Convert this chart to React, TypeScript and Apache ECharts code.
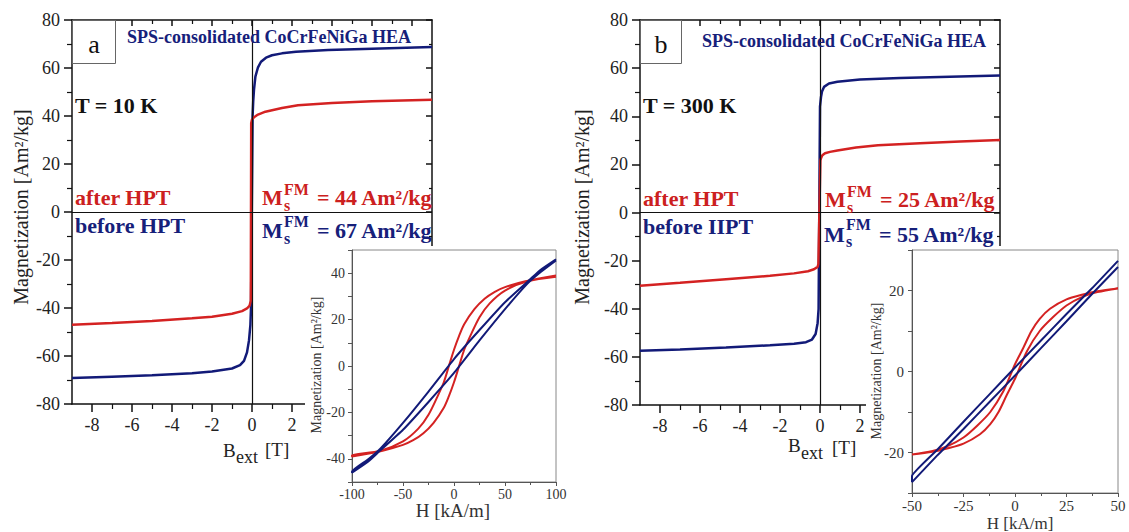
import React, { useEffect, useRef } from "react";
import * as echarts from "echarts";

const FONT = "Liberation Serif, Times New Roman, serif";
const NAVY = "#121a78";
const RED = "#d42222";
const NAVY_TXT = "#16207a";
const RED_TXT = "#cc2020";

// main axes ticks
const mainXLabels = [-8, -6, -4, -2, 0, 2];
const mainXMajor = [-8, -6, -4, -2, 0, 2, 4, 6, 8];
const mainXMinor = [-7, -5, -3, -1, 1, 3, 5, 7];

// Panel a (T = 10 K): B [T], M [Am2/kg]
const aBeforeB = [-9, -7, -5, -3, -2, -1, -0.6, -0.4, -0.25, -0.15, -0.08, -0.05, 0.03, 0.06, 0.1, 0.17, 0.3, 0.45, 0.7, 1, 1.5, 2.2, 3.8, 6, 9];
const aBeforeM = [-69.2, -68.6, -68, -67.2, -66.5, -65.2, -63.8, -62, -58.5, -53.5, -47, -40, 40, 46, 51, 56.4, 60.3, 62.6, 64.3, 65.3, 66.1, 66.8, 67.5, 68, 68.7];
const aAfterB = [-9, -7, -5, -3, -2, -1, -0.5, -0.25, -0.12, -0.06, -0.04, 0, 0.1, 0.3, 0.67, 1.5, 2.3, 4, 6, 9];
const aAfterM = [-47, -46.3, -45.4, -44.3, -43.6, -42.4, -41.3, -40.2, -39, -37, 37, 38.5, 39.5, 40.6, 41.8, 43.3, 44.5, 45.4, 46.1, 46.8];

// Panel b (T = 300 K)
const bBeforeB = [-9, -7, -4.7, -2.5, -1.3, -0.7, -0.4, -0.22, -0.12, -0.07, 0, 0.05, 0.1, 0.2, 0.45, 0.87, 2, 4, 6, 9];
const bBeforeM = [-57.5, -56.9, -56.1, -55.2, -54.5, -53.9, -52.8, -50.5, -46, -40, 44, 48, 50.3, 52.2, 53.6, 54.3, 55.3, 55.9, 56.3, 56.9];
const bAfterB = [-9, -7, -4.7, -2.5, -1.3, -0.6, -0.3, -0.12, -0.08, 0.02, 0.06, 0.12, 0.25, 0.5, 0.87, 1.8, 2.9, 5, 7, 9];
const bAfterM = [-30.4, -29.2, -27.7, -26.3, -25.3, -24.4, -23.6, -22.6, -21.5, 21.7, 22.8, 23.8, 24.6, 25.2, 25.8, 27, 27.9, 28.8, 29.5, 30.1];

// Inset a (H [kA/m], M), descending (upper) and ascending (lower) branches
const iaBlueUpper = [[100, 46], [85, 41.5], [75, 37.5], [50, 27.5], [25, 15.5], [0, 3], [-25, -11], [-50, -24.5], [-72, -35.5], [-85, -40.5], [-100, -45.5]];
const iaBlueLower = [[-100, -46], [-85, -41.5], [-75, -37.5], [-50, -27.5], [-25, -15.5], [0, -3], [25, 11], [50, 24.5], [72, 35.5], [85, 40.5], [100, 45.5]];
const iaRedUpper = [[100, 39], [70, 36.5], [50, 34], [40, 32], [30, 29], [20, 24.5], [10, 18], [5, 13], [0, 7], [-5, 0], [-10, -7], [-15, -12], [-25, -21], [-35, -27], [-50, -32.5], [-72, -36.5], [-100, -38.5]];
const iaRedLower = [[-100, -39], [-70, -36.5], [-50, -34], [-40, -32], [-30, -29], [-20, -24.5], [-10, -18], [-5, -13], [0, -7], [5, 0], [10, 7], [15, 12], [25, 21], [35, 27], [50, 32.5], [72, 36.5], [100, 38.5]];

// Inset b
const ibBlueUpper = [[50, 27.3], [37.5, 20.6], [25, 14.2], [12.5, 7.6], [0, 1], [-12.5, -5.7], [-25, -12.4], [-37.5, -19.2], [-50, -25.8]];
const ibBlueLower = [[-50, -27.3], [-37.5, -20.6], [-25, -14.2], [-12.5, -7.6], [0, -1], [12.5, 5.7], [25, 12.4], [37.5, 19.2], [50, 25.8]];
const ibRedUpper = [[50, 20.5], [40, 19.8], [33, 19], [25, 17.8], [17, 15.5], [12, 13], [8, 10], [4, 5.8], [0, 1.8], [-1.5, 0], [-6, -5.2], [-12, -10], [-18, -13.2], [-25, -16.3], [-33, -18.5], [-40, -19.6], [-50, -20.5]];
const ibRedLower = [[-50, -20.5], [-40, -19.8], [-33, -19], [-25, -17.8], [-17, -15.5], [-12, -13], [-8, -10], [-4, -5.8], [0, -1.8], [1.5, 0], [6, 5.2], [12, 10], [18, 13.2], [25, 16.3], [33, 18.5], [40, 19.6], [50, 20.5]];

const insetAYLabels = [-40, -20, 0, 20, 40];
const insetBYLabels = [-20, 0, 20];

function zip(xs: number[], ys: number[]) {
  return xs.map((x, i) => [x, ys[i]]);
}

const BLACK = "#111";

function mainXAxes(gMain: number, gOver: number) {
  const base = { type: "value", min: -9, max: 9, splitLine: { show: false } };
  return [
    {
      ...base, gridIndex: gMain, position: "bottom",
      axisLine: { show: true, onZero: false, lineStyle: { color: BLACK, width: 1.5 } },
      axisTick: { show: true, inside: false, length: 8, customValues: mainXMajor, lineStyle: { color: BLACK, width: 1.5 } },
      axisLabel: { show: true, customValues: mainXLabels, margin: 12, fontSize: 18, fontFamily: FONT, color: "#222" },
    },
    {
      ...base, gridIndex: gMain, position: "top",
      axisLine: { show: true, onZero: false, lineStyle: { color: BLACK, width: 1.5 } },
      axisTick: { show: true, inside: true, length: 6, customValues: mainXMajor, lineStyle: { color: BLACK, width: 1.5 } },
      axisLabel: { show: false },
    },
    {
      ...base, gridIndex: gOver, position: "bottom",
      axisLine: { show: false, onZero: false },
      axisTick: { show: true, inside: false, length: 5, customValues: mainXMinor, lineStyle: { color: BLACK, width: 1.2 } },
      axisLabel: { show: false },
    },
    {
      ...base, gridIndex: gOver, position: "top",
      axisLine: { show: false, onZero: false },
      axisTick: { show: true, inside: true, length: 4, customValues: mainXMinor, lineStyle: { color: BLACK, width: 1.2 } },
      axisLabel: { show: false },
    },
  ];
}

function mainYAxes(gMain: number, gOver: number) {
  const base = { type: "value", min: -80, max: 80, interval: 20, splitLine: { show: false } };
  return [
    {
      ...base, gridIndex: gMain, position: "left",
      axisLine: { show: true, onZero: false, lineStyle: { color: BLACK, width: 1.5 } },
      axisTick: { show: true, inside: false, length: 8, lineStyle: { color: BLACK, width: 1.5 } },
      minorTick: { show: true, splitNumber: 2, length: 5, lineStyle: { color: BLACK, width: 1.2 } },
      axisLabel: { show: true, margin: 12, fontSize: 18, fontFamily: FONT, color: "#222" },
    },
    {
      ...base, gridIndex: gMain, position: "right",
      axisLine: { show: true, onZero: false, lineStyle: { color: BLACK, width: 1.5 } },
      axisTick: { show: true, inside: true, length: 6, lineStyle: { color: BLACK, width: 1.5 } },
      minorTick: { show: true, splitNumber: 2, length: 3, lineStyle: { color: BLACK, width: 1.2 } },
      axisLabel: { show: false },
    },
    { ...base, gridIndex: gOver, show: false },
  ];
}

function txt(text: string, x: number, baseline: number, size: number, color: string, weight = "bold", align = "left") {
  return {
    type: "text", x, y: baseline - 0.33 * size, z: 100,
    style: { text, fontSize: size, fontFamily: FONT, fontWeight: weight, fill: color, textAlign: align, textVerticalAlign: "middle" },
  };
}

function rotTxt(text: string, x: number, y: number, size: number, color: string) {
  return {
    type: "text", x, y, rotation: Math.PI / 2, z: 100,
    style: { text, fontSize: size, fontFamily: FONT, fontWeight: "normal", fill: color, textAlign: "center", textVerticalAlign: "middle" },
  };
}

function msLabel(x: number, baseM: number, baseFM: number, baseS: number, xRest: number, rest: string, color: string) {
  return [
    txt("M", x, baseM, 22, color),
    txt("FM", x + 22, baseFM, 16, color),
    txt("s", x + 22, baseS, 16, color),
    txt(rest, xRest, baseM, 22, color),
  ];
}

function line(data: number[][], color: string, xi: number, yi: number, width: number, z: number, smooth: number | boolean = false, extra: any = {}) {
  return {
    type: "line", data, xAxisIndex: xi, yAxisIndex: yi, showSymbol: false, symbol: "none",
    smooth, z, lineStyle: { color, width }, itemStyle: { color }, silent: true, animation: false, ...extra,
  };
}

function zeroLines(color: string, width: number) {
  return {
    markLine: {
      silent: true, symbol: ["none", "none"], label: { show: false },
      lineStyle: { color, width, type: "solid" },
      data: [{ xAxis: 0 }, { yAxis: 0 }],
      animation: false,
    },
  };
}

export default function App() {
  const ref = useRef<HTMLDivElement>(null);
  useEffect(() => {
    if (!ref.current) return;
    const chart = echarts.init(ref.current, undefined, { renderer: "svg" });
    const insetAxisColor = "#555";
    const option: any = {
      animation: false,
      backgroundColor: "#fff",
      textStyle: { fontFamily: FONT },
      grid: [
        { left: 72, top: 20, width: 360, height: 384, outerBoundsMode: "none" },
        { left: 72, top: 20, width: 360, height: 384, outerBoundsMode: "none" },
        { left: 640, top: 20, width: 360, height: 385, outerBoundsMode: "none" },
        { left: 640, top: 20, width: 360, height: 385, outerBoundsMode: "none" },
        { left: 352, top: 250, width: 204, height: 232, show: true, borderColor: "#888", borderWidth: 1, backgroundColor: "rgba(0,0,0,0)", z: 55, outerBoundsMode: "none" },
        { left: 912, top: 250, width: 206, height: 243, show: true, borderColor: "#888", borderWidth: 1, backgroundColor: "rgba(0,0,0,0)", z: 55, outerBoundsMode: "none" },
      ],
      xAxis: [
        ...mainXAxes(0, 1),
        ...mainXAxes(2, 3),
        {
          type: "value", gridIndex: 4, min: -100, max: 100, interval: 50, position: "bottom", z: 60,
          splitLine: { show: false },
          axisLine: { show: true, onZero: false, lineStyle: { color: insetAxisColor, width: 1 } },
          axisTick: { show: true, inside: false, length: 4, lineStyle: { color: insetAxisColor } },
          minorTick: { show: true, splitNumber: 2, length: 3, lineStyle: { color: insetAxisColor } },
          axisLabel: { margin: 5, fontSize: 14, fontFamily: FONT, color: "#333" },
        },
        {
          type: "value", gridIndex: 5, min: -50, max: 50, interval: 25, position: "bottom", z: 60,
          splitLine: { show: false },
          axisLine: { show: true, onZero: false, lineStyle: { color: insetAxisColor, width: 1 } },
          axisTick: { show: true, inside: false, length: 4, lineStyle: { color: insetAxisColor } },
          minorTick: { show: true, splitNumber: 2, length: 3, lineStyle: { color: insetAxisColor } },
          axisLabel: { margin: 5, fontSize: 15, fontFamily: FONT, color: "#333" },
        },
      ],
      yAxis: [
        ...mainYAxes(0, 1),
        ...mainYAxes(2, 3),
        {
          type: "value", gridIndex: 4, min: -50, max: 50, interval: 10, position: "left", z: 60,
          splitLine: { show: false },
          axisLine: { show: true, onZero: false, lineStyle: { color: insetAxisColor, width: 1 } },
          axisTick: { show: true, inside: false, length: 4, lineStyle: { color: insetAxisColor } },
          axisLabel: { customValues: insetAYLabels, margin: 7, fontSize: 14, fontFamily: FONT, color: "#333" },
        },
        {
          type: "value", gridIndex: 5, min: -30, max: 30, interval: 10, position: "left", z: 60,
          splitLine: { show: false },
          axisLine: { show: true, onZero: false, lineStyle: { color: insetAxisColor, width: 1 } },
          axisTick: { show: true, inside: false, length: 4, lineStyle: { color: insetAxisColor } },
          axisLabel: { customValues: insetBYLabels, margin: 8, fontSize: 15, fontFamily: FONT, color: "#333" },
        },
      ],
      series: [
        line(zip(aBeforeB, aBeforeM), NAVY, 0, 0, 2.5, 2, false, zeroLines(BLACK, 1.2)),
        line(zip(aAfterB, aAfterM), RED, 0, 0, 2.5, 3),
        line(zip(bBeforeB, bBeforeM), NAVY, 4, 3, 2.5, 2, false, zeroLines(BLACK, 1.2)),
        line(zip(bAfterB, bAfterM), RED, 4, 3, 2.5, 3),
        line([...iaRedUpper, ...iaRedLower], RED, 8, 6, 2, 61, 0.3, zeroLines("#666", 1)),
        line([...iaBlueUpper, ...iaBlueLower], NAVY, 8, 6, 2, 62, 0.15),
        line([...ibRedUpper, ...ibRedLower], RED, 9, 7, 2, 61, 0.3, zeroLines("#666", 1)),
        line([...ibBlueUpper, ...ibBlueLower], NAVY, 9, 7, 2, 62, 0.1),
      ],
      graphic: {
        elements: [
          // white covers behind the insets
          { type: "rect", z: 50, shape: { x: 305, y: 246, width: 275, height: 286 }, style: { fill: "#fff" } },
          { type: "rect", z: 50, shape: { x: 866, y: 246, width: 263, height: 286 }, style: { fill: "#fff" } },
          // panel letter boxes
          { type: "rect", z: 99, shape: { x: 72.5, y: 20.5, width: 43, height: 43 }, style: { fill: "#fff", stroke: "#666", lineWidth: 1 } },
          { type: "rect", z: 99, shape: { x: 640.5, y: 20.5, width: 41, height: 43 }, style: { fill: "#fff", stroke: "#666", lineWidth: 1 } },
          txt("a", 94, 53, 26, "#111", "normal", "center"),
          txt("b", 661, 53, 26, "#111", "normal", "center"),
          // titles
          txt("SPS-consolidated CoCrFeNiGa HEA", 127, 43, 18, NAVY_TXT),
          txt("SPS-consolidated CoCrFeNiGa HEA", 702, 47, 18, NAVY_TXT),
          // temperatures
          txt("T = 10 K", 75, 113, 22, "#111"),
          txt("T = 300 K", 643, 113, 22, "#111"),
          // legend-like labels
          txt("after HPT", 75, 205, 22, RED_TXT),
          txt("before HPT", 75, 233, 22, NAVY_TXT),
          txt("after HPT", 643, 206, 22, RED_TXT),
          txt("before IIPT", 643, 234, 22, NAVY_TXT),
          ...msLabel(262, 205, 195, 211, 317, "= 44 Am²/kg", RED_TXT),
          ...msLabel(262, 238, 227, 244, 317, "= 67 Am²/kg", NAVY_TXT),
          ...msLabel(825, 207, 197, 213, 880, "= 25 Am²/kg", RED_TXT),
          ...msLabel(824, 242, 230, 247, 879, "= 55 Am²/kg", NAVY_TXT),
          // main axis titles
          rotTxt("Magnetization [Am²/kg]", 21, 207, 20, "#222"),
          rotTxt("Magnetization [Am²/kg]", 582, 207, 20, "#222"),
          txt("B", 223, 457, 19, "#222", "normal"),
          txt("ext", 236, 463, 18, "#222", "normal"),
          txt("[T]", 265, 456, 19, "#222", "normal"),
          txt("B", 788, 452, 19, "#222", "normal"),
          txt("ext", 801, 459, 18, "#222", "normal"),
          txt("[T]", 832, 454, 19, "#222", "normal"),
          // inset axis titles
          rotTxt("Magnetization [Am²/kg]", 316, 365, 14, "#333"),
          rotTxt("Magnetization [Am²/kg]", 876, 371, 14, "#333"),
          txt("H [kA/m]", 453, 517, 19, "#333", "normal", "center"),
          txt("H [kA/m]", 1020, 529, 17, "#333", "normal", "center"),
        ],
      },
    };
    chart.setOption(option);
    return () => chart.dispose();
  }, []);
  return <div ref={ref} style={{ position: "absolute", left: 0, top: 0, width: 1129, height: 532 }} />;
}
